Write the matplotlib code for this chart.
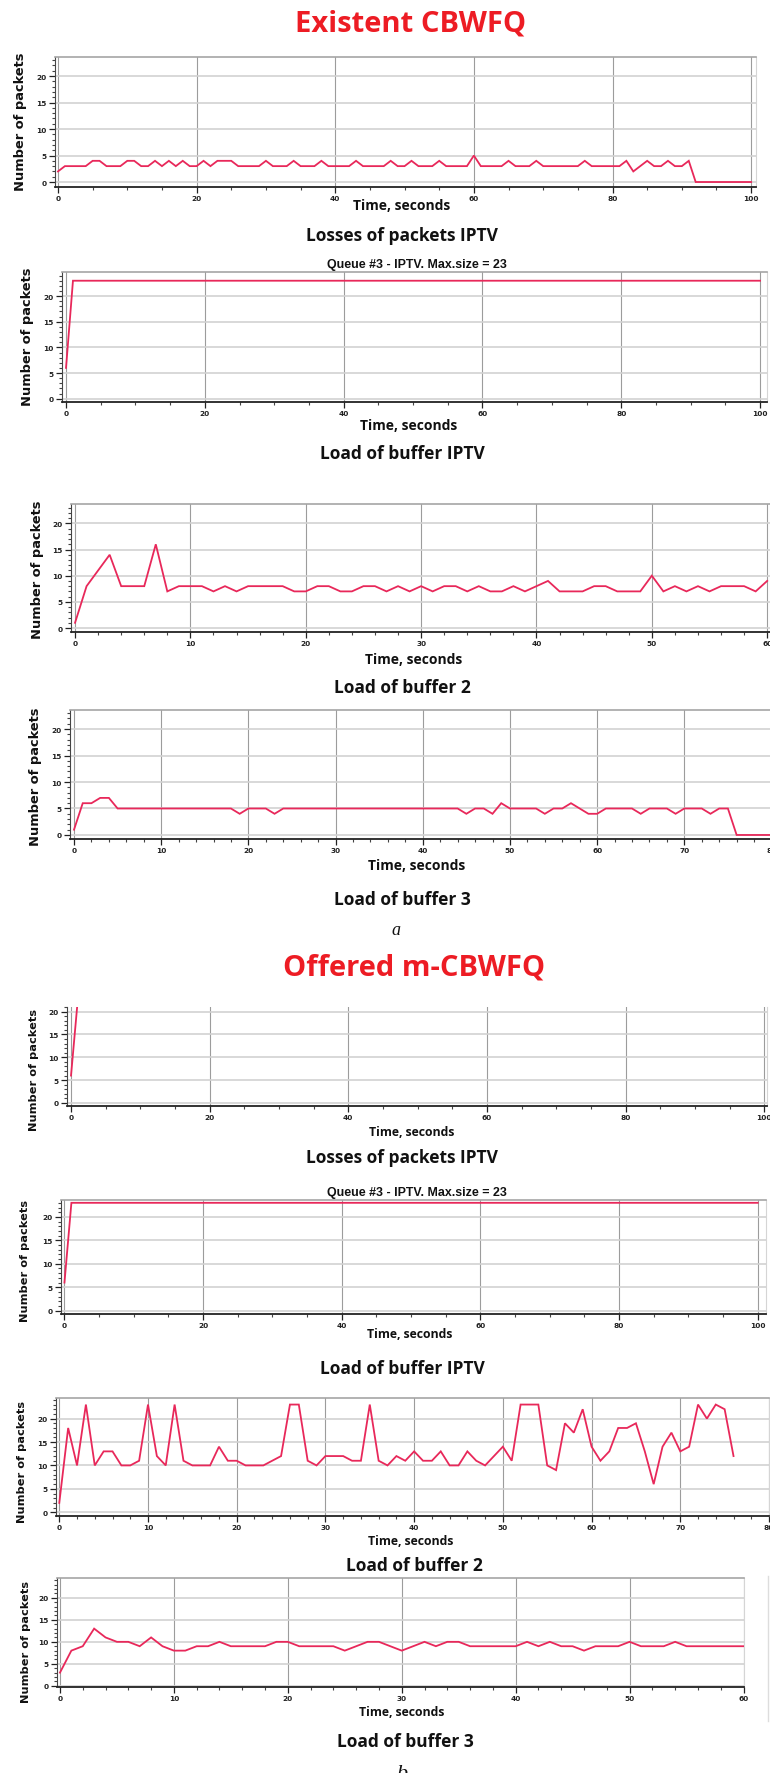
import matplotlib
matplotlib.use("Agg")
import matplotlib.pyplot as plt
from matplotlib.ticker import MultipleLocator
from matplotlib.lines import Line2D

plt.rcParams['font.family'] = ['DejaVu Sans']
plt.rcParams['font.weight'] = 'bold'

W, H = 770, 1774

# ---------------- data (time in seconds -> number of packets) ----------------
# Existent CBWFQ
losses_iptv_a = [2, 3, 3, 3, 3, 4, 4, 3, 3, 3,
                 4, 4, 3, 3, 4, 3, 4, 3, 4, 3,
                 3, 4, 3, 4, 4, 4, 3, 3, 3, 3,
                 4, 3, 3, 3, 4, 3, 3, 3, 4, 3,
                 3, 3, 3, 4, 3, 3, 3, 3, 4, 3,
                 3, 4, 3, 3, 3, 4, 3, 3, 3, 3,
                 5, 3, 3, 3, 3, 4, 3, 3, 3, 4,
                 3, 3, 3, 3, 3, 3, 4, 3, 3, 3,
                 3, 3, 4, 2, 3, 4, 3, 3, 4, 3,
                 3, 4, 0, 0, 0, 0, 0, 0, 0, 0,
                 0]
iptv_buf_t_a = [0, 1, 100]
iptv_buf_a = [6, 23, 23]
buf2_a = [1, 8, 11, 14, 8, 8, 8, 16, 7, 8,
          8, 8, 7, 8, 7, 8, 8, 8, 8, 7,
          7, 8, 8, 7, 7, 8, 8, 7, 8, 7,
          8, 7, 8, 8, 7, 8, 7, 7, 8, 7,
          8, 9, 7, 7, 7, 8, 8, 7, 7, 7,
          10, 7, 8, 7, 8, 7, 8, 8, 8, 7,
          9]
buf3_a = [1, 6, 6, 7, 7, 5, 5, 5, 5, 5,
          5, 5, 5, 5, 5, 5, 5, 5, 5, 4,
          5, 5, 5, 4, 5, 5, 5, 5, 5, 5,
          5, 5, 5, 5, 5, 5, 5, 5, 5, 5,
          5, 5, 5, 5, 5, 4, 5, 5, 4, 6,
          5, 5, 5, 5, 4, 5, 5, 6, 5, 4,
          4, 5, 5, 5, 5, 4, 5, 5, 5, 4,
          5, 5, 5, 4, 5, 5, 0, 0, 0, 0,
          0]
# Offered m-CBWFQ
losses_iptv_t_b = [0, 1]
losses_iptv_b = [6, 23]
iptv_buf_t_b = [0, 1, 100]
iptv_buf_b = [6, 23, 23]
buf2_b = [2, 18, 10, 23, 10, 13, 13, 10, 10, 11,
          23, 12, 10, 23, 11, 10, 10, 10, 14, 11,
          11, 10, 10, 10, 11, 12, 23, 23, 11, 10,
          12, 12, 12, 11, 11, 23, 11, 10, 12, 11,
          13, 11, 11, 13, 10, 10, 13, 11, 10, 12,
          14, 11, 23, 23, 23, 10, 9, 19, 17, 22,
          14, 11, 13, 18, 18, 19, 13, 6, 14, 17,
          13, 14, 23, 20, 23, 22, 12]
buf3_b = [3, 8, 9, 13, 11, 10, 10, 9, 11, 9,
          8, 8, 9, 9, 10, 9, 9, 9, 9, 10,
          10, 9, 9, 9, 9, 8, 9, 10, 10, 9,
          8, 9, 10, 9, 10, 10, 9, 9, 9, 9,
          9, 10, 9, 10, 9, 9, 8, 9, 9, 9,
          10, 9, 9, 9, 10, 9, 9, 9, 9, 9,
          9]

queue_title = "Queue #3 - IPTV. Max.size = 23"
ylab = "Number of packets"
xlab = "Time, seconds"

LINE = '#e8285a'
fig = plt.figure(figsize=(W / 100, H / 100), dpi=100)


def fx(x):
    return x / W


def fy(y):
    return 1 - y / H


def panel(L, R, T, B, t, v, xlim, ylim, xmaj, xmin, top_spine=True):
    ax = fig.add_axes([L / W, 1 - B / H, (R - L) / W, (B - T) / H])
    ax.plot(t, v, color=LINE, lw=1.3, solid_joinstyle='miter', zorder=3)
    ax.set_xlim(*xlim)
    ax.set_ylim(*ylim)
    ax.xaxis.set_major_locator(MultipleLocator(xmaj))
    ax.xaxis.set_minor_locator(MultipleLocator(xmin))
    ax.yaxis.set_major_locator(MultipleLocator(5))
    ax.yaxis.set_minor_locator(MultipleLocator(1))
    ax.grid(True, which='major', axis='x', color='#9c9c9c', lw=0.8, zorder=1)
    ax.grid(True, which='major', axis='y', color='#d2d2d2', lw=1.2, zorder=1)
    ax.tick_params(which='major', direction='out', length=4, width=0.9,
                   labelsize=5.3, pad=2, colors='#222222')
    ax.tick_params(which='minor', direction='out', length=2.5, width=0.8,
                   colors='#444444')
    ax.spines['left'].set_color('#444444')
    ax.spines['bottom'].set_color('#222222')
    ax.spines['bottom'].set_linewidth(1.3)
    ax.spines['top'].set_color('#a5a5a5')
    ax.spines['top'].set_linewidth(1.2)
    ax.spines['right'].set_color('#d5d5d5')
    ax.spines['top'].set_visible(top_spine)
    ax.set_facecolor('white')
    return ax


def ctext(x, y, s, **kw):
    fig.text(fx(x), fy(y), s, ha='center', va='center', **kw)


def ylabel(x, y, size):
    fig.text(fx(x), fy(y), ylab, rotation=90, ha='center', va='center',
             fontsize=size, fontweight='bold', color='#111111')


TITLE_KW = dict(fontsize=21, fontweight='bold', color='#ed1c24', family=['Open Sans', 'DejaVu Sans'])
CAP_KW = dict(fontsize=12.5, fontweight='bold', color='#111111', family=['Open Sans', 'DejaVu Sans'])
XL_KW = dict(fontweight='bold', color='#111111', family=['Open Sans', 'DejaVu Sans'])
QT_KW = dict(fontsize=8.9, fontweight='bold', color='#111111', family=['Liberation Sans', 'DejaVu Sans'])

# ---------------- a) Existent CBWFQ ----------------
ctext(411, 24, "Existent CBWFQ", **TITLE_KW)

panel(55, 756, 58, 188, range(len(losses_iptv_a)), losses_iptv_a,
      (-0.43, 100.7), (-0.94, 23.6), 20, 5)
ylabel(21, 122, 9.4)
ctext(402, 206, xlab, fontsize=10, **XL_KW)
ctext(402, 236, "Losses of packets IPTV", **CAP_KW)

ctext(417, 265, queue_title, **QT_KW)
panel(62, 767, 273, 403, iptv_buf_t_a, iptv_buf_a,
      (-0.58, 101.0), (-0.65, 24.7), 20, 5)
ylabel(27, 337, 9.4)
ctext(409, 426, xlab, fontsize=10, **XL_KW)
ctext(402, 454, "Load of buffer IPTV", **CAP_KW)

panel(71, 769.5, 505, 633, range(len(buf2_a)), buf2_a,
      (-0.35, 60.2), (-0.76, 23.7), 10, 2)
ylabel(38, 570, 9.4)
ctext(414, 660, xlab, fontsize=10, **XL_KW)
ctext(402, 688, "Load of buffer 2", **CAP_KW)

panel(70, 775, 711, 840, range(len(buf3_a)), buf3_a,
      (-0.46, 80.4), (-0.76, 23.6), 10, 2)
ylabel(36, 777, 9.4)
ctext(417, 866, xlab, fontsize=10, **XL_KW)
ctext(402, 900, "Load of buffer 3", **CAP_KW)

fig.text(fx(396), fy(931), "a", ha='center', va='center', fontsize=13,
         style='italic', fontweight='normal', family=['Liberation Serif'], color='#111111')

# ---------------- b) Offered m-CBWFQ ----------------
ctext(414, 968, "Offered m-CBWFQ", **TITLE_KW)

panel(67, 767, 1008, 1107, losses_iptv_t_b, losses_iptv_b,
      (-0.58, 100.4), (-0.66, 21.0), 20, 5, top_spine=False)
ylabel(34, 1070, 8.2)
ctext(412, 1132, xlab, fontsize=8.8, **XL_KW)
ctext(402, 1158, "Losses of packets IPTV", **CAP_KW)

ctext(417, 1193, queue_title, **QT_KW)
panel(61, 766, 1201, 1315, iptv_buf_t_b, iptv_buf_b,
      (-0.5, 101.2), (-0.7, 23.6), 20, 5)
ylabel(25, 1261, 8.2)
ctext(410, 1335, xlab, fontsize=8.8, **XL_KW)
ctext(402, 1369, "Load of buffer IPTV", **CAP_KW)

panel(56, 769, 1399, 1517, range(len(buf2_b)), buf2_b,
      (-0.37, 80.0), (-0.8, 24.4), 10, 2)
ylabel(22, 1462, 8.2)
ctext(411, 1542, xlab, fontsize=8.8, **XL_KW)
ctext(414, 1566, "Load of buffer 2", **CAP_KW)

panel(57, 743.5, 1579, 1687.5, range(len(buf3_b)), buf3_b,
      (-0.26, 60.0), (-0.15, 24.5), 10, 2)
ylabel(26, 1642, 8.2)
ctext(402, 1713, xlab, fontsize=8.8, **XL_KW)
ctext(405, 1742, "Load of buffer 3", **CAP_KW)

fig.add_artist(Line2D([fx(768), fx(768)], [fy(1577), fy(1722)], color='#dddddd', lw=1))
fig.text(fx(402), fy(1779), "b", ha='center', va='baseline', fontsize=16,
         style='italic', fontweight='normal', family=['Liberation Serif'], color='#111111')

fig.savefig("out.png", dpi=100, facecolor='white')
